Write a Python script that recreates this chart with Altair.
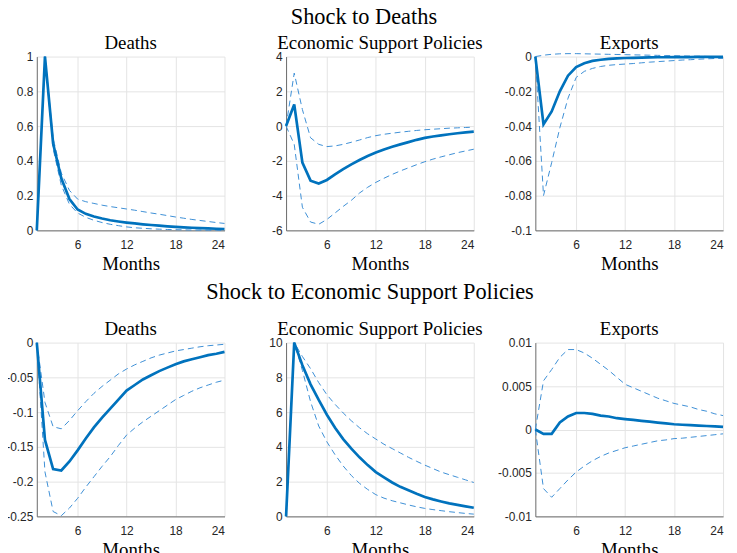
import altair as alt
import pandas as pd

months = list(range(1, 25))
row_titles = ["Shock to Deaths", "Shock to Economic Support Policies"]
panel_titles = ["Deaths", "Economic Support Policies", "Exports"]
x_ticks = [6, 12, 18, 24]
x_title = "Months"

# ---- Shock to Deaths ----
d_deaths_med = [0, 1.0, 0.50, 0.30, 0.18, 0.12, 0.095, 0.08, 0.068, 0.058, 0.051, 0.045,
                0.040, 0.035, 0.031, 0.027, 0.023, 0.020, 0.017, 0.015, 0.013, 0.011, 0.0095, 0.008]
d_deaths_up = [0, 1.0, 0.53, 0.33, 0.23, 0.18, 0.165, 0.155, 0.145, 0.137, 0.130, 0.123,
               0.116, 0.108, 0.100, 0.093, 0.085, 0.077, 0.070, 0.063, 0.057, 0.051, 0.045, 0.040]
d_deaths_lo = [0, 1.0, 0.47, 0.26, 0.15, 0.10, 0.075, 0.058, 0.045, 0.035, 0.027, 0.020,
               0.015, 0.012, 0.009, 0.007, 0.005, 0.004, 0.003, 0.002, 0.0015, 0.001, 0.0005, 0.0]

d_esp_med = [0, 1.24, -2.1, -3.14, -3.3, -3.1, -2.78, -2.48, -2.2, -1.95, -1.72, -1.52,
             -1.35, -1.19, -1.05, -0.92, -0.79, -0.68, -0.6, -0.53, -0.47, -0.41, -0.36, -0.32]
d_esp_up = [0, 3.05, 0.95, -0.67, -1.05, -1.18, -1.14, -1.05, -0.93, -0.8, -0.66, -0.55,
            -0.47, -0.41, -0.35, -0.3, -0.25, -0.21, -0.18, -0.15, -0.12, -0.1, -0.08, -0.06]
d_esp_lo = [0, -1.05, -4.67, -5.52, -5.65, -5.37, -5.0, -4.62, -4.27, -3.85, -3.52, -3.24,
            -3.0, -2.78, -2.58, -2.4, -2.22, -2.05, -1.9, -1.77, -1.65, -1.53, -1.43, -1.33]

d_exp_med = [0, -0.039, -0.0316, -0.020, -0.011, -0.006, -0.0038, -0.0025, -0.0018, -0.0013,
             -0.001, -0.0008, -0.0007, -0.0006, -0.0005, -0.0004, -0.0004, -0.0003, -0.0003,
             -0.0003, -0.0002, -0.0002, -0.0002, -0.0002]
d_exp_up = [0, 0.0008, 0.0013, 0.0016, 0.0017, 0.0017, 0.0016, 0.0015, 0.0014, 0.0013, 0.0012,
            0.0011, 0.001, 0.0009, 0.0008, 0.0007, 0.0006, 0.0005, 0.0004, 0.0003, 0.0002,
            0.0001, 0.0, -0.0001]
d_exp_lo = [0, -0.080, -0.061, -0.041, -0.024, -0.012, -0.0085, -0.0068, -0.0057, -0.005,
            -0.0046, -0.0043, -0.004, -0.0036, -0.0032, -0.0029, -0.0026, -0.0023, -0.002,
            -0.0018, -0.0015, -0.0013, -0.0011, -0.001]

# ---- Shock to Economic Support Policies ----
e_deaths_med = [0, -0.14, -0.182, -0.184, -0.171, -0.155, -0.138, -0.122, -0.108, -0.095,
                -0.082, -0.069, -0.061, -0.053, -0.047, -0.041, -0.036, -0.031, -0.027,
                -0.024, -0.021, -0.018, -0.016, -0.0133]
e_deaths_up = [0, -0.086, -0.121, -0.124, -0.112, -0.098, -0.085, -0.073, -0.063, -0.054,
               -0.045, -0.038, -0.032, -0.027, -0.022, -0.018, -0.015, -0.012, -0.01,
               -0.008, -0.006, -0.0045, -0.0035, -0.0024]
e_deaths_lo = [0, -0.186, -0.243, -0.249, -0.238, -0.224, -0.208, -0.193, -0.178, -0.164,
               -0.148, -0.133, -0.123, -0.114, -0.106, -0.098, -0.09, -0.082, -0.076,
               -0.07, -0.065, -0.061, -0.057, -0.054]

e_esp_med = [0, 10, 8.7, 7.6, 6.7, 5.85, 5.1, 4.45, 3.9, 3.4, 2.95, 2.55, 2.25, 1.95, 1.7,
             1.5, 1.3, 1.12, 0.98, 0.86, 0.75, 0.66, 0.58, 0.5]
e_esp_up = [0, 10, 9.2, 8.5, 7.7, 7.0, 6.45, 5.95, 5.5, 5.1, 4.75, 4.45, 4.15, 3.9, 3.65,
            3.4, 3.17, 2.95, 2.75, 2.55, 2.4, 2.25, 2.1, 1.95]
e_esp_lo = [0, 10, 8.4, 6.6, 5.2, 4.29, 3.55, 2.9, 2.35, 1.9, 1.55, 1.25, 1.05, 0.9, 0.78,
            0.66, 0.55, 0.46, 0.39, 0.33, 0.27, 0.22, 0.17, 0.13]

e_exp_med = [0, -0.0005, -0.0005, 0.0008, 0.0015, 0.0019, 0.0019, 0.0018, 0.0016, 0.0015,
             0.0013, 0.0012, 0.0011, 0.001, 0.0009, 0.0008, 0.0007, 0.0006, 0.00055, 0.0005,
             0.00045, 0.0004, 0.00035, 0.0003]
e_exp_up = [0, 0.0056, 0.0069, 0.0083, 0.0092, 0.0092, 0.0088, 0.0082, 0.0075, 0.0068, 0.006,
            0.0052, 0.0048, 0.0044, 0.004, 0.0036, 0.0033, 0.003, 0.0028, 0.0026, 0.0023,
            0.0021, 0.0018, 0.0016]
e_exp_lo = [0, -0.0068, -0.0078, -0.0068, -0.0058, -0.0049, -0.0042, -0.0036, -0.0031,
            -0.0027, -0.0024, -0.0021, -0.0019, -0.0017, -0.0015, -0.0013, -0.0012, -0.00105,
            -0.001, -0.0009, -0.0008, -0.0007, -0.0006, -0.0005]

y_ticks_d_deaths = [0, 0.2, 0.4, 0.6, 0.8, 1]
y_ticks_d_esp = [-6, -4, -2, 0, 2, 4]
y_ticks_d_exp = [-0.1, -0.08, -0.06, -0.04, -0.02, 0]
y_ticks_e_deaths = [-0.25, -0.2, -0.15, -0.1, -0.05, 0]
y_ticks_e_esp = [0, 2, 4, 6, 8, 10]
y_ticks_e_exp = [-0.01, -0.005, 0, 0.005, 0.01]

MAIN = "#0072BD"
BAND = "#3d8fd6"
W, H = 189, 175


def panel(med, up, lo, title, yticks):
    df = pd.DataFrame({
        "month": months * 3,
        "value": med + up + lo,
        "band": ["median"] * 24 + ["upper"] * 24 + ["lower"] * 24,
    })
    x = alt.X("month:Q",
              scale=alt.Scale(domain=[1, 24], nice=False, zero=False),
              axis=alt.Axis(values=x_ticks, title=x_title))
    y = alt.Y("value:Q",
              scale=alt.Scale(domain=[yticks[0], yticks[-1]], nice=False, zero=False),
              axis=alt.Axis(values=yticks, title=None, labelExpr="toString(datum.value)"))
    base = alt.Chart(df)
    bands = base.transform_filter("datum.band != 'median'").mark_line(
        color=BAND, strokeWidth=1, strokeDash=[6, 4]
    ).encode(x=x, y=y, detail="band:N")
    mid = base.transform_filter("datum.band == 'median'").mark_line(
        color=MAIN, strokeWidth=2.7
    ).encode(x=x, y=y)
    return alt.layer(bands, mid).properties(
        width=W, height=H,
        title=alt.TitleParams(title, frame="group", offset=-2,
                              font="Liberation Serif", fontSize=19, fontWeight="normal",
                              color="black"),
    )


row1 = alt.hconcat(
    panel(d_deaths_med, d_deaths_up, d_deaths_lo, panel_titles[0], y_ticks_d_deaths),
    panel(d_esp_med, d_esp_up, d_esp_lo, panel_titles[1], y_ticks_d_esp),
    panel(d_exp_med, d_exp_up, d_exp_lo, panel_titles[2], y_ticks_d_exp),
    spacing=62, bounds="flush",
).properties(title=alt.TitleParams(row_titles[0], anchor="middle", font="Liberation Serif",
                                   fontSize=22.5, fontWeight="normal", color="black",
                                   offset=5, dx=-8.5))

row2 = alt.hconcat(
    panel(e_deaths_med, e_deaths_up, e_deaths_lo, panel_titles[0], y_ticks_e_deaths),
    panel(e_esp_med, e_esp_up, e_esp_lo, panel_titles[1], y_ticks_e_esp),
    panel(e_exp_med, e_exp_up, e_exp_lo, panel_titles[2], y_ticks_e_exp),
    spacing=62, bounds="flush",
).properties(title=alt.TitleParams(row_titles[1], anchor="middle", font="Liberation Serif",
                                   fontSize=22.5, fontWeight="normal", color="black",
                                   offset=16, dx=3))

chart = alt.vconcat(row1, row2, spacing=8,
                    padding={"left": -3, "top": -4, "right": 0, "bottom": 0}
).configure_view(stroke=None).configure_axis(
    labelFont="Liberation Sans", labelFontSize=12, labelColor="#262626",
    titleFont="Liberation Serif", titleFontSize=19, titleFontWeight="normal",
    titleColor="black", titlePadding=4,
    domainColor="#6a6a6a", domainWidth=1, gridColor="#e4e4e4", gridWidth=1,
    ticks=False, labelPadding=4,
).configure_axisX(labelPadding=9)

chart.save("out.html", embed_options={"renderer": "svg", "actions": False})
